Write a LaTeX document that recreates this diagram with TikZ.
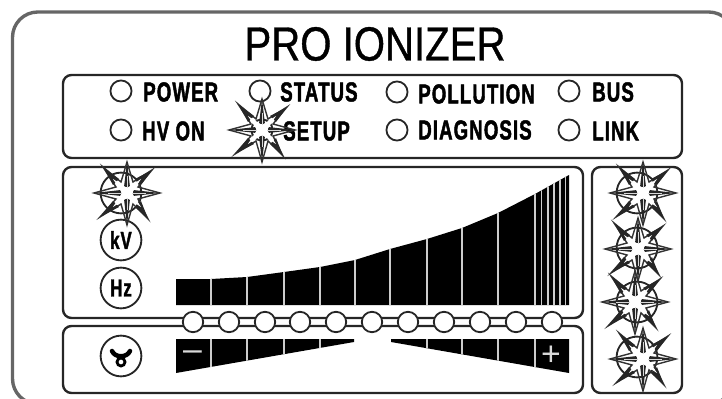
\documentclass[tikz,border=0pt]{standalone}
\usepackage{fontspec}
\setmainfont{Liberation Sans}
\newfontfamily\ledfont[FakeStretch=0.68,FakeBold=1.6,LetterSpace=4,UprightFont=* Bold]{Liberation Sans}
\newfontfamily\titlefont[FakeStretch=0.84,FakeBold=0.8]{Liberation Sans}
\usetikzlibrary{positioning}

\begin{document}
\begin{tikzpicture}[
  x=0.025cm, y=-0.025cm,
  outer/.style={line width=2.4pt, draw=black!60, rounded corners=18pt},
  panel/.style={line width=1.7pt, draw=black!85, rounded corners=6pt},
  led/.style={circle, draw=black!85, line width=1.3pt, minimum size=15pt, inner sep=0pt},
  ledbig/.style={circle, draw=black!85, line width=1.3pt, minimum size=29pt, inner sep=0pt},
  busled/.style={circle, draw=black!85, fill=white, line width=1.3pt, minimum size=14.5pt, inner sep=0pt},
  label/.style={font=\ledfont\fontsize{19.5}{19.5}\selectfont, anchor=west, inner sep=0pt},
  unit/.style={ledbig, font=\ledfont\fontsize{17.5}{17.5}\selectfont},
  gap/.style={draw=white!80!black, line width=1.2pt},
  burst/.pic={
    % spikes, not filled: what lies below shows through
    \draw[line width=1pt, draw=black!80, line join=miter]
      (0,-31) -- (6,-11) -- (25,-23) -- (11,-6) -- (33,0) -- (11,6) -- (21,26) -- (6,11)
      -- (0,32) -- (-6,11) -- (-27,24) -- (-11,6) -- (-33,0) -- (-11,-6) -- (-24,-26) -- (-6,-11) -- cycle;
    \fill[black!85] (-3,-6) -- (0,-31) -- (3,-6) -- cycle;
    \fill[black!85] (6,-3) -- (33,0) -- (6,3) -- cycle;
    \fill[black!85] (-3,6) -- (0,32) -- (3,6) -- cycle;
    \fill[black!85] (-6,-3) -- (-33,0) -- (-6,3) -- cycle;
    \fill[black!85] (-8,-14) -- (-24,-26) -- (-14,-8) -- cycle;
    \fill[black!85] (8,-14) -- (25,-23) -- (14,-8) -- cycle;
    \fill[black!85] (-8,14) -- (-27,24) -- (-14,8) -- cycle;
    \fill[black!85] (8,14) -- (21,26) -- (14,8) -- cycle;
    % white centre and the pale line in each spike
    \fill[white] (-14,-14) -- (0,-5) -- (14,-14) -- (5,0) -- (14,14) -- (0,5) -- (-14,14) -- (-5,0) -- cycle;
    \draw[white!85!black, line width=0.6pt] (0,-5) -- (0,-17) (5,0) -- (19,0) (0,5) -- (0,17) (-5,0) -- (-19,0);
  },
]
\useasboundingbox (0,0) rectangle (722,399);
\clip (0,0) rectangle (722,399);

% --- Housing and panels ---
\draw[outer] (12.5,12) rectangle (734,404);
\draw[panel] (63,75) rectangle (682,158);
\draw[panel] (63,167) rectangle (583,318);
\draw[panel] (63,326) rectangle (583,393);
\draw[panel] (592,167) rectangle (682,393);

\node[font=\titlefont\fontsize{34}{34}\selectfont, inner sep=0pt] (title) at (375,44) {PRO IONIZER};

% --- Status LEDs ---
\foreach \name/\x/\y in {power/121/91, hvon/121/130, status/260/91, setup/262/130,
                         pollution/397/92, diagnosis/397/130, bus/569/91, link/569/130} {
  \node[led] (\name) at (\x,\y) {};
}
\node[label] (powertxt) at (143,92) {POWER};
\node[label] (hvontxt) at (142,131) {HV ON};
\node[label] (statustxt) at (280,92) {STATUS};
\node[label] (setuptxt) at (283,131) {SETUP};
\node[label] (pollutiontxt) at (418,94) {POLLUTION};
\node[label] (diagnosistxt) at (418,130) {DIAGNOSIS};
\node[label] (bustxt) at (592,92) {BUS};
\node[label] (linktxt) at (592,131) {LINK};

% --- Unit buttons ---
\node[ledbig] (blank) at (121,193) {};
\node[unit] (kv) at (121,240) {kV};
\node[unit] (hz) at (121,288) {Hz};
\node[ledbig] (fan) at (121,356) {};
\draw[line width=3.2pt, line cap=round] (112,351) .. controls (115,358) and (127,358) .. (130,351);
\draw[line width=2pt] (121,362) circle (4);

% --- Upper bar graph ---
\begin{scope}
\clip (176,305) -- (176,279) -- (211,279) -- (247,277) -- (284,272) -- (320,267) -- (355,260)
  -- (390,249) -- (427,239) -- (462,228) -- (498,213) -- (535,194) -- (569,175) -- (569,305) -- cycle;
\fill[black] (170,170) rectangle (575,310);
\foreach \x in {211,247,284,320,355,390,427,462,498,535} {
  \draw[gap] (\x,170) -- (\x,310);
}
\foreach \x in {541.5,548,554,560,565.7} {
  \draw[gap, line width=0.8pt] (\x,170) -- (\x,310);
}
\end{scope}

% --- Lower bar graph ---
\begin{scope}
\clip (176,339) -- (354,339) -- (354,342) -- (176,373) -- cycle
  (391,339) -- (569,339) -- (569,373) -- (391,342) -- cycle;
\fill[black] (170,335) rectangle (575,378);
\foreach \x in {211,247,284,320,427,462,498,535} {
  \draw[gap] (\x,335) -- (\x,378);
}
\end{scope}
\node[text=white!85!black, font=\fontsize{24}{24}\selectfont, inner sep=0pt] (minus) at (192.5,356) {–};
\node[text=white!85!black, font=\fontsize{24}{24}\selectfont, inner sep=0pt] (plus) at (551,356) {+};

% --- Bus of round LEDs ---
\foreach \i/\x in {1/193,2/229,3/265,4/300,5/336,6/372,7/408,8/444,9/480,10/516,11/552} {
  \node[busled] (bus\i) at (\x,322) {};
}

% --- Bursts ---
\node[ledbig] (right1) at (637,193) {};
\node[ledbig] (right2) at (637,248) {};
\node[ledbig] (right3) at (637,302) {};
\node[ledbig] (right4) at (637,357) {};
\pic at (262,130) {burst};
\pic at (127,193) {burst};
\pic at (643,193) {burst};
\pic at (638,249) {burst};
\pic at (635,302) {burst};
\pic at (643,359) {burst};

\end{tikzpicture}
\end{document}
